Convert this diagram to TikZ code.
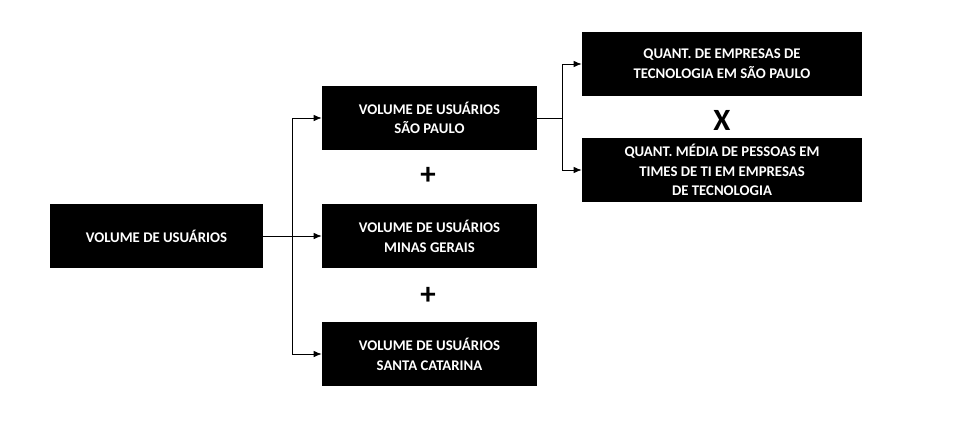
\documentclass[tikz,border=0pt]{standalone}
\usepackage{fontspec}
\setmainfont{Carlito}
\usetikzlibrary{arrows.meta}
\tikzset{
  blackbox/.style={fill=black,text=white,font=\bfseries\fontsize{10.5}{14}\selectfont,align=center,
    minimum width=5.375cm,minimum height=1.6cm,inner sep=0pt},
  widebox/.style={blackbox,minimum width=7cm},
  link/.style={-{Latex[length=2mm,width=1.6mm]},line width=0.5pt},
  sign/.style={font=\bfseries\fontsize{22}{22}\selectfont}
}
\begin{document}
\begin{tikzpicture}[x=0.025cm,y=-0.025cm]
\useasboundingbox (0,0) rectangle (980,423);
\node[blackbox,minimum width=5.325cm] (vol) at (156.5,236) {VOLUME DE USUÁRIOS};
\node[blackbox] (sp) at (429.5,118) {VOLUME DE USUÁRIOS\\SÃO PAULO};
\node[blackbox] (mg) at (429.5,236) {VOLUME DE USUÁRIOS\\MINAS GERAIS};
\node[blackbox] (sc) at (429.5,354) {VOLUME DE USUÁRIOS\\SANTA CATARINA};
\node[widebox] (emp) at (722,64) {QUANT. DE EMPRESAS DE\\TECNOLOGIA EM SÃO PAULO};
\node[widebox] (pes) at (722,170) {QUANT. MÉDIA DE PESSOAS EM\\TIMES DE TI EM EMPRESAS\\DE TECNOLOGIA};
\node[sign] (plus1) at (428,176) {+};
\node[sign] (plus2) at (428,296) {+};
\node[sign] (times) at (722,120) {X};
\coordinate (fork) at (292,236);
\coordinate (fork2) at (562,118);
\draw[line width=0.5pt] (vol.east) -- (fork);
\draw[link] (fork) |- (sp.west);
\draw[link] (fork) -- (mg.west);
\draw[link] (fork) |- (sc.west);
\draw[line width=0.5pt] (sp.east) -- (fork2);
\draw[link] (fork2) |- (emp.west);
\draw[link] (fork2) |- (pes.west);
\end{tikzpicture}
\end{document}
